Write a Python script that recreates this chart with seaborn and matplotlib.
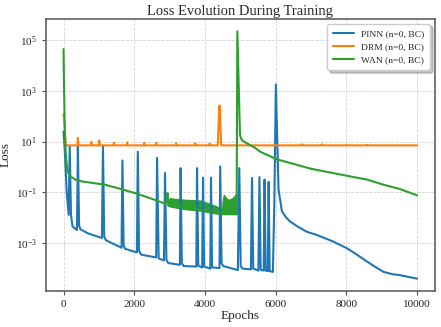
import matplotlib
matplotlib.use("Agg")
import matplotlib.pyplot as plt
import seaborn as sns
import pandas as pd

# values
pinn_epochs = [0, 40, 90, 145, 175, 210, 255, 380, 405, 440, 480, 700, 1085, 1115, 1150, 1200,
               1640, 1665, 1700, 1740, 2075, 2100, 2135, 2200, 2620, 2645, 2690, 2840, 2870,
               2910, 2960, 3290, 3310, 3345, 3400, 3755, 3775, 3810, 3920, 3945, 3975, 4150,
               4170, 4200, 4410, 4430, 4470, 4520, 4930, 4970, 5010, 5060, 5300, 5330, 5365,
               5510, 5540, 5575, 5660, 5685, 5715, 5775, 5800, 5830, 5920, 5960, 6005, 6080,
               6175, 6300, 6410, 6600, 6880, 7165, 7600, 8015, 8300, 8580, 8800, 9050, 9300,
               9520, 9750, 10000]
pinn_loss = [25, 3.2, 0.1, 1.3e-2, 6.5, 1.3e-2, 4.5e-3, 3.3e-3, 6.5, 5.0e-3, 3.5e-3, 2.4e-3,
             1.6e-3, 6.5, 1.8e-3, 1.3e-3, 6.6e-4, 1.8, 7.9e-4, 6.0e-4, 4.3e-4, 4.0, 5.0e-4,
             3.5e-4, 2.75e-4, 2.3, 2.5e-4, 2.1e-4, 0.58, 2.2e-4, 1.65e-4, 1.4e-4, 0.9, 1.6e-4,
             1.25e-4, 1.2e-4, 0.9, 1.3e-4, 1.1e-4, 0.38, 1.2e-4, 1.0e-4, 0.38, 1.1e-4, 1.05e-4,
             1.05, 1.6e-4, 1.25e-4, 8.7e-5, 0.9, 1.25e-4, 1.0e-4, 9.3e-5, 0.37, 1.0e-4, 8.3e-5,
             0.4, 8.9e-5, 8.3e-5, 0.32, 8.3e-5, 7.9e-5, 0.26, 7.9e-5, 7.4e-5, 0.032, 1780, 0.13,
             0.018, 0.010, 7.1e-3, 4.7e-3, 2.8e-3, 2.1e-3, 1.2e-3, 6.3e-4, 3.5e-4, 1.9e-4,
             1.2e-4, 7.4e-5, 6.0e-5, 5.5e-5, 4.7e-5, 4.0e-5]

drm_epochs = [0, 30, 60, 390, 405, 420, 770, 785, 800, 995, 1010, 1025, 1410, 1425, 1440,
              1785, 1800, 1815, 2265, 2280, 2295, 2605, 2620, 2635, 3170, 3185, 3200, 3710,
              3725, 3740, 4115, 4130, 4145, 4360, 4395, 4410, 4425, 4460, 6730, 6745, 6760,
              7295, 7310, 7325, 8000, 8015, 8030, 8565, 8580, 8595, 10000]
drm_loss = [120, 40, 7.1, 7.1, 14, 7.1, 7.1, 9.8, 7.1, 7.1, 11, 7.1, 7.1, 9.1, 7.1, 7.1, 9.3,
            7.1, 7.1, 8.9, 7.1, 7.1, 8.9, 7.1, 7.1, 8.6, 7.1, 7.1, 8.6, 7.1, 7.1, 8.4, 7.1, 7.1,
            100, 263, 100, 7.1, 7.1, 7.8, 7.1, 7.1, 7.8, 7.1, 7.1, 7.6, 7.1, 7.1, 7.5, 7.1, 7.1]

wan_epochs = [0, 15, 35, 60, 95, 140, 200, 330, 520, 1180, 1510, 2030, 2450, 2875, 2920, 2940,
              2960, 3400, 3870, 4340, 4895, 4915, 4990, 5040, 5140, 5420, 5560, 6035, 7000,
              8015, 8580, 9050, 9520, 10000]
wan_loss = [4.4e4, 1000, 32, 4.0, 1.0, 0.56, 0.42, 0.32, 0.27, 0.2, 0.15, 0.093, 0.059, 0.036,
            0.05, 0.093, 0.03, 0.025, 0.021, 0.016, 0.014, 2.2e5, 18, 11.5, 9.3, 5.6, 4.0, 2.0,
            0.85, 0.45, 0.32, 0.2, 0.135, 0.076]

# dense oscillation band of WAN between ~2960 and ~4900
band_epochs = [2960, 3020, 3400, 3870, 4150, 4340, 4480, 4500, 4530, 4600, 4670, 4780, 4860, 4895]
band_upper = [0.056, 0.059, 0.052, 0.048, 0.035, 0.028, 0.021, 0.05, 0.081, 0.06, 0.051, 0.06,
              0.081, 0.089]
band_lower = [0.030, 0.0275, 0.022, 0.019, 0.016, 0.0145, 0.0138, 0.0138, 0.0138, 0.0138,
              0.0138, 0.0138, 0.0138, 0.0138]

labels = ["PINN (n=0, BC)", "DRM (n=0, BC)", "WAN (n=0, BC)"]
colors = ["#1f77b4", "#ff7f0e", "#2ca02c"]
y_ticks = [1e-3, 1e-1, 1e1, 1e3, 1e5]

sns.set_style("ticks")
plt.rcParams["font.family"] = "serif"
plt.rcParams["font.serif"] = ["Liberation Serif", "DejaVu Serif"]
plt.rcParams["mathtext.fontset"] = "stix"

fig, ax = plt.subplots(figsize=(4.41, 3.27), dpi=100)
fig.subplots_adjust(left=0.104, right=0.986, bottom=0.11, top=0.942)

series = [(pinn_epochs, pinn_loss), (drm_epochs, drm_loss), (wan_epochs, wan_loss)]
for (ep, ls), lab, c in zip(series, labels, colors):
    df = pd.DataFrame({"Epochs": ep, "Loss": ls})
    sns.lineplot(data=df, x="Epochs", y="Loss", ax=ax, color=c, lw=1.5, label=lab,
                 sort=False, estimator=None)

ax.fill_between(band_epochs, band_lower, band_upper, color=colors[2], lw=0.8)

ax.set_yscale("log")
ax.set_yticks(y_ticks)
ax.minorticks_off()
ax.grid(True, linestyle="--", color="#d5d5d5", lw=0.6)
ax.set_title("Loss Evolution During Training", fontsize=10.5, pad=3)
ax.set_xlabel("Epochs", fontsize=9.5, labelpad=1)
ax.set_ylabel("Loss", fontsize=9.5, labelpad=3)
ax.tick_params(labelsize=8, length=3, color="#555555")
for s in ax.spines.values():
    s.set_color("#555555")
    s.set_linewidth(1.1)

ax.legend(loc="upper right", fontsize=6.8, frameon=True, fancybox=True,
          shadow={"color": "0.55", "alpha": 0.5}, borderpad=0.6, handlelength=2.2)

fig.savefig("out.png", dpi=100)
